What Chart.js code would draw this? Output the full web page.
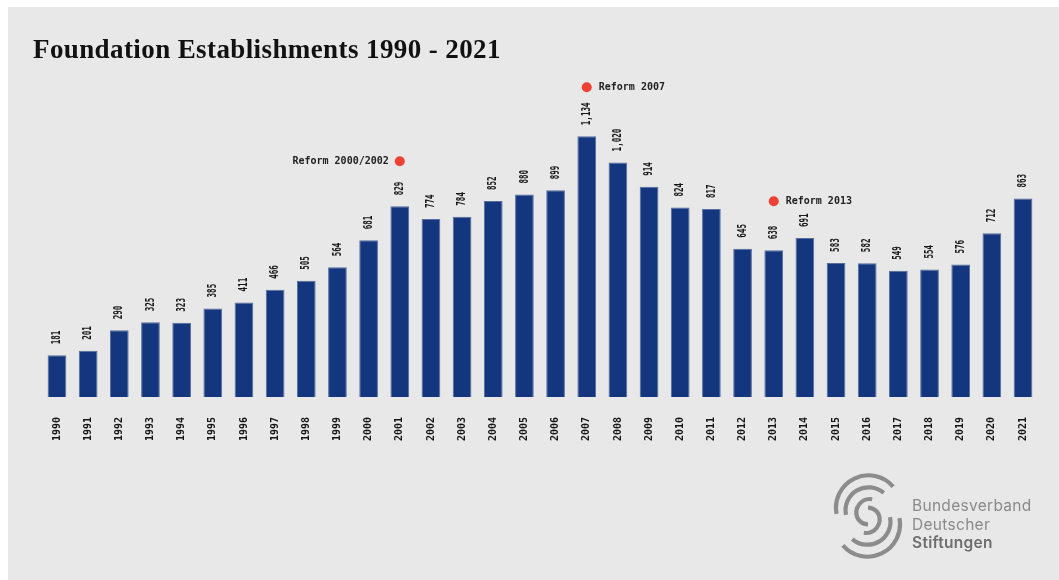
<!DOCTYPE html>
<html>
<head>
<meta charset="utf-8">
<title>Foundation Establishments 1990 - 2021</title>
<script src="https://cdn.jsdelivr.net/npm/chart.js@4.4.1/dist/chart.umd.min.js"></script>
<style>
  html, body { margin: 0; padding: 0; background: #ffffff; }
  #page { position: relative; width: 1059px; height: 580px; overflow: hidden; }
  #panel { position: absolute; left: 8px; top: 7px; right: 0; bottom: 0; background: #e7e8e7; }
  #chart { position: absolute; left: 0; top: 0; }
  #title {
    position: absolute; left: 33px; top: 34px;
    font-family: "Liberation Serif", "DejaVu Serif", serif;
    font-weight: bold; font-size: 27px; color: #111;
    letter-spacing: 0.4px; white-space: nowrap;
  }
  #logo { position: absolute; left: 824px; top: 472px; }
  #logoText {
    position: absolute; left: 912px; top: 497px;
    font-family: Inter, "Noto Sans", sans-serif;
    font-size: 15.5px; line-height: 18.5px; color: #8a8a8a;
    letter-spacing: 0.3px;
  }
  #logoText b { color: #6e6e6e; font-weight: 600; }
</style>
</head>
<body>
<div id="page">
  <div id="panel"></div>
  <canvas id="chart" width="1059" height="580"></canvas>
  <div id="title">Foundation Establishments 1990 - 2021</div>
  <svg id="logo" width="88" height="88" viewBox="0 0 84 84">
    <g fill="none" stroke="#8c8c8c" stroke-width="4" stroke-linecap="butt">
      <!-- upper half of the S: arcs opening to the right -->
      <path d="M 66 14 A 31 31 0 0 0 12 40" />
      <path d="M 57 20 A 22 22 0 0 0 21 41" />
      <path d="M 46 26 A 13 13 0 0 0 32 44 A 12 12 0 0 0 42 50" />
      <!-- lower half: arcs opening to the left -->
      <path d="M 42 34 A 12 12 0 0 1 52 40 A 13 13 0 0 1 38 58" />
      <path d="M 63 43 A 22 22 0 0 1 27 64" />
      <path d="M 72 44 A 31 31 0 0 1 18 70" />
    </g>
  </svg>
  <div id="logoText">Bundesverband<br>Deutscher<br><b>Stiftungen</b></div>
</div>

<script>
const years = ["1990", "1991", "1992", "1993", "1994", "1995", "1996", "1997",
  "1998", "1999", "2000", "2001", "2002", "2003", "2004", "2005", "2006", "2007",
  "2008", "2009", "2010", "2011", "2012", "2013", "2014", "2015", "2016", "2017",
  "2018", "2019", "2020", "2021"];

const establishments = [181, 201, 290, 325, 323, 385, 411, 466, 505, 564, 681,
  829, 774, 784, 852, 880, 899, 1134, 1020, 914, 824, 817, 645, 638, 691, 583,
  582, 549, 554, 576, 712, 863];

// reform markers: which year column, how high the dot sits, and its caption
const reformYears = ["2001", "2007", "2013"];
const reformLevels = [1025, 1347, 851];
const reformLabels = ["Reform 2000/2002", "Reform 2007", "Reform 2013"];
const reformSides = ["left", "right", "right"];

const BAR_COLOR = "#14367e";
const DOT_COLOR = "#ee4136";
const MONO = "'DejaVu Sans Mono', 'Liberation Mono', monospace";

/* value above each bar, rotated to read upward */
const valueLabels = {
  id: "valueLabels",
  afterDatasetsDraw(chart) {
    const ctx = chart.ctx;
    const bars = chart.getDatasetMeta(0).data;
    ctx.save();
    ctx.fillStyle = "#161616";
    ctx.font = "bold 12px " + MONO;
    ctx.textAlign = "left";
    ctx.textBaseline = "middle";
    bars.forEach((bar, i) => {
      ctx.save();
      ctx.translate(bar.x, bar.y - 11);
      ctx.rotate(-Math.PI / 2);
      ctx.scale(0.63, 1);
      ctx.fillText(establishments[i].toLocaleString("en-US"), 0, 0);
      ctx.restore();
    });
    ctx.restore();
  }
};

/* captions next to the reform dots */
const reformCaptions = {
  id: "reformCaptions",
  afterDatasetsDraw(chart) {
    const ctx = chart.ctx;
    const dots = chart.getDatasetMeta(1).data;
    ctx.save();
    ctx.fillStyle = "#222";
    ctx.font = "bold 10px " + MONO;
    ctx.textBaseline = "middle";
    dots.forEach((dot, i) => {
      if (reformSides[i] === "left") {
        ctx.textAlign = "right";
        ctx.fillText(reformLabels[i], dot.x - 11, dot.y);
      } else {
        ctx.textAlign = "left";
        ctx.fillText(reformLabels[i], dot.x + 12, dot.y);
      }
    });
    ctx.restore();
  }
};

new Chart(document.getElementById("chart"), {
  type: "bar",
  data: {
    labels: years,
    datasets: [{
      data: establishments,
      backgroundColor: BAR_COLOR,
      borderColor: "rgba(70, 95, 150, 0.9)",
      borderWidth: 1,
      categoryPercentage: 1,
      barPercentage: 0.6
    }, {
      type: "line",
      data: reformYears.map((y, i) => ({ x: y, y: reformLevels[i] })),
      showLine: false,
      pointRadius: 5,
      pointBackgroundColor: DOT_COLOR,
      pointBorderWidth: 0,
      clip: false
    }]
  },
  options: {
    responsive: false,
    animation: false,
    layout: { padding: { left: 41.4, right: 20.4, top: 75, bottom: 0 } },
    plugins: {
      legend: { display: false },
      tooltip: { enabled: false }
    },
    scales: {
      x: {
        grid: { display: false },
        border: { display: false },
        ticks: {
          color: "#161616",
          font: { family: MONO, size: 10, weight: "bold" },
          minRotation: 90,
          maxRotation: 90,
          padding: 12,
          autoSkip: false
        },
        afterFit(scale) { scale.height = 183; }
      },
      y: {
        display: false,
        min: 0,
        max: 1400
      }
    }
  },
  plugins: [valueLabels, reformCaptions]
});
</script>
</body>
</html>
